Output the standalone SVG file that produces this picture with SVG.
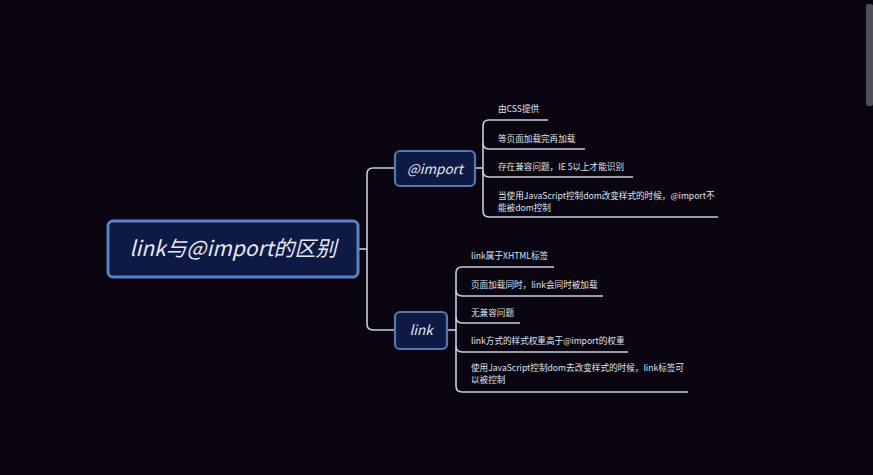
<svg xmlns="http://www.w3.org/2000/svg" width="873" height="475" viewBox="0 0 873 475">
<style>
.node{fill:#0f1a44;stroke:#5676b4;stroke-width:2.2}
.root{fill:#0f1a44;stroke:#5a82c4;stroke-width:3}
.lbl{font-family:"Noto Sans CJK SC","Liberation Sans",sans-serif;font-style:italic;fill:#e3e8f5;text-anchor:middle}
.leaf{font-family:"Noto Sans CJK SC","Liberation Sans",sans-serif;font-size:8.6px;fill:#dfe3ec}
.con path{fill:none;stroke:#c9ced9;stroke-width:1.6}
</style>
<rect width="873" height="475" fill="#0a0511"/>
<rect x="866" y="4" width="7" height="102" rx="2" fill="#4f4f58"/>
<g class="con" id="connectors">
<path d="M358,249 H367"/>
<path d="M395,168 H373 Q367,168 367,174 V324 Q367,330 373,330 H395"/>
<path d="M475,168 H483"/>
<path d="M548,120 H489 Q483,120 483,126 V211 Q483,217 489,217 H718"/>
<path d="M483,143 Q483,149 489,149 H585"/>
<path d="M483,171 Q483,177 489,177 H633"/>
<path d="M447,330 H456"/>
<path d="M554,267 H462 Q456,267 456,273 V386 Q456,392 462,392 H688"/>
<path d="M456,290 Q456,296 462,296 H603"/>
<path d="M456,317 Q456,323 462,323 H520"/>
<path d="M456,346 Q456,352 462,352 H628"/>
</g>
<g id="root">
<rect class="root" x="108" y="221" width="250" height="56" rx="5"/>
<text class="lbl" x="233" y="256" font-size="21">link与@import的区别</text>
</g>
<g id="import">
<rect class="node" x="395" y="151" width="80" height="35" rx="5"/>
<text class="lbl" x="435" y="173.5" font-size="13.5">@import</text>
</g>
<g id="link">
<rect class="node" x="395" y="312" width="52" height="37" rx="5"/>
<text class="lbl" x="421" y="335" font-size="13.5">link</text>
</g>
<g id="i1"><text class="leaf" x="498" y="111.5">由CSS提供</text></g>
<g id="i2"><text class="leaf" x="498" y="141.5">等页面加载完再加载</text></g>
<g id="i3"><text class="leaf" x="498" y="169.5">存在兼容问题，IE 5以上才能识别</text></g>
<g id="i4"><text class="leaf" x="498" y="198.5">当使用JavaScript控制dom改变样式的时候，@import不</text><text class="leaf" x="498" y="210.5">能被dom控制</text></g>
<g id="l1"><text class="leaf" x="471" y="259">link属于XHTML标签</text></g>
<g id="l2"><text class="leaf" x="471" y="287.5">页面加载同时，link会同时被加载</text></g>
<g id="l3"><text class="leaf" x="471" y="315.5">无兼容问题</text></g>
<g id="l4"><text class="leaf" x="471" y="343.5">link方式的样式权重高于@import的权重</text></g>
<g id="l5"><text class="leaf" x="471" y="371">使用JavaScript控制dom去改变样式的时候，link标签可</text><text class="leaf" x="471" y="383">以被控制</text></g>
</svg>
